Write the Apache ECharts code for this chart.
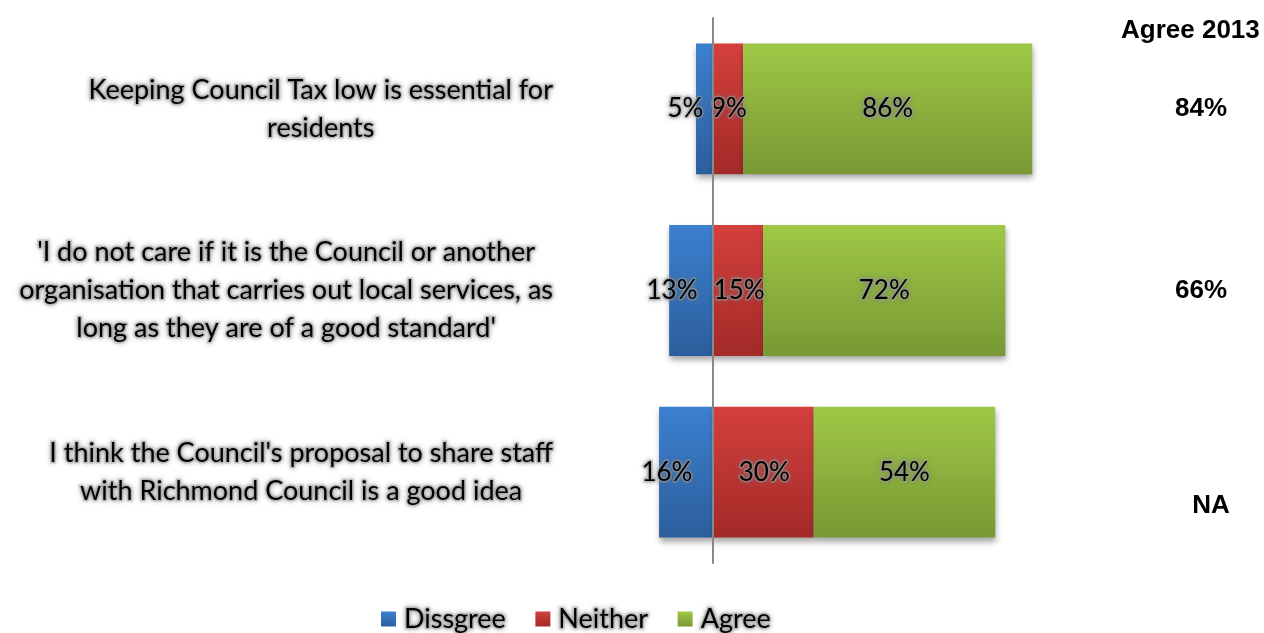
<!DOCTYPE html>
<html>
<head>
<meta charset="utf-8">
<script src="https://cdn.jsdelivr.net/npm/echarts@6/dist/echarts.min.js"></script>
<style>
  html, body { margin: 0; padding: 0; background: #fff; }
  #chart { width: 1264px; height: 633px; }
</style>
</head>
<body>
<div id="chart"></div>
<script>
// Survey statements (top to bottom)
const statements = [
  'Keeping Council Tax low is essential for\nresidents',
  "'I do not care if it is the Council or another\norganisation that carries out local services, as\nlong as they are of a good standard'",
  "I think the Council's proposal to share staff\nwith Richmond Council is a good idea"
];
// Percentages per response
const disagree = [5, 13, 16];
const neither = [9, 15, 30];
const agree = [86, 72, 54];
// Agreement in the previous survey
const agree2013 = ['84%', '66%', 'NA'];

const FONT = 'Lato, "Open Sans", sans-serif';
const BOLD_FONT = '"Liberation Sans", Arial, sans-serif';
const glow = {
  textBorderColor: 'rgba(165,165,165,0.5)',
  textBorderWidth: 3,
  textShadowColor: 'rgba(120,120,120,0.65)',
  textShadowBlur: 5
};

function grad(top, bottom) {
  return new echarts.graphic.LinearGradient(0, 0, 0, 1, [
    { offset: 0, color: top },
    { offset: 1, color: bottom }
  ]);
}

const barShadow = {
  shadowColor: 'rgba(0,0,0,0.35)',
  shadowBlur: 6,
  shadowOffsetY: 4,
  shadowOffsetX: 1
};

const labelBase = Object.assign({
  show: true,
  position: 'inside',
  color: '#000',
  fontFamily: FONT,
  fontSize: 26,
  formatter: p => Math.abs(p.value) + '%'
}, glow);

const chart = echarts.init(document.getElementById('chart'));
chart.setOption({
  backgroundColor: '#fff',
  animation: false,
  title: {
    text: 'Agree 2013',
    left: 1121,
    top: 18,
    padding: 0,
    textStyle: { fontFamily: BOLD_FONT, fontWeight: 'bold', fontSize: 26, color: '#000' }
  },
  legend: {
    top: 599,
    left: 376,
    itemWidth: 15,
    itemHeight: 15,
    itemGap: 28,
    icon: 'rect',
    data: ['Dissgree', 'Neither', 'Agree'],
    textStyle: Object.assign({ fontFamily: FONT, fontSize: 27, color: '#000', padding: [0, 0, 0, 3] }, glow)
  },
  grid: { left: 612, right: 215, top: 18, bottom: 70, containLabel: false, outerBoundsMode: 'none' },
  xAxis: {
    type: 'value',
    min: -30,
    max: 100,
    show: false
  },
  yAxis: [
    {
      type: 'category',
      inverse: true,
      data: statements,
      z: 10,
      axisLine: { show: true, lineStyle: { color: '#888888', width: 2 } },
      axisTick: { show: false },
      axisLabel: Object.assign({
        margin: 59,
        align: 'right',
        color: '#000',
        fontFamily: FONT,
        fontSize: 27,
        lineHeight: 38,
        formatter: v => v.split('\n').map(l => '{c|' + l + '}').join('\n'),
        rich: {
          c: Object.assign({ align: 'center', fontFamily: FONT, fontSize: 27, lineHeight: 38, color: '#000' }, glow)
        }
      }, glow)
    },
    {
      type: 'category',
      inverse: true,
      position: 'right',
      data: agree2013,
      axisLine: { show: false },
      axisTick: { show: false },
      axisLabel: {
        margin: 152,
        align: 'center',
        color: '#000',
        fontFamily: BOLD_FONT,
        fontWeight: 'bold',
        fontSize: 26,
        formatter: v => v === 'NA' ? '{na|' + v + '}' : '{v|' + v + '}',
        rich: {
          v: { fontFamily: BOLD_FONT, fontWeight: 'bold', fontSize: 26, color: '#000' },
          na: { fontFamily: BOLD_FONT, fontWeight: 'bold', fontSize: 26, color: '#000', padding: [68, 0, 0, 20] }
        }
      }
    }
  ],
  series: [
    {
      name: 'Dissgree',
      type: 'bar',
      stack: 'resp',
      barWidth: '72%',
      data: disagree.map(v => -v),
      itemStyle: Object.assign({ color: grad('#3c80d0', '#2c5e9c') }, barShadow),
      label: Object.assign({}, labelBase, { offset: [-19, 0] })
    },
    {
      name: 'Neither',
      type: 'bar',
      stack: 'resp',
      barWidth: '72%',
      data: neither,
      itemStyle: Object.assign({ color: grad('#d3403d', '#a32a28') }, barShadow),
      label: Object.assign({}, labelBase, { offset: [1, 0] })
    },
    {
      name: 'Agree',
      type: 'bar',
      stack: 'resp',
      barWidth: '72%',
      data: agree,
      itemStyle: Object.assign({ color: grad('#9fc846', '#789834') }, barShadow),
      label: labelBase
    }
  ]
});
</script>
</body>
</html>
